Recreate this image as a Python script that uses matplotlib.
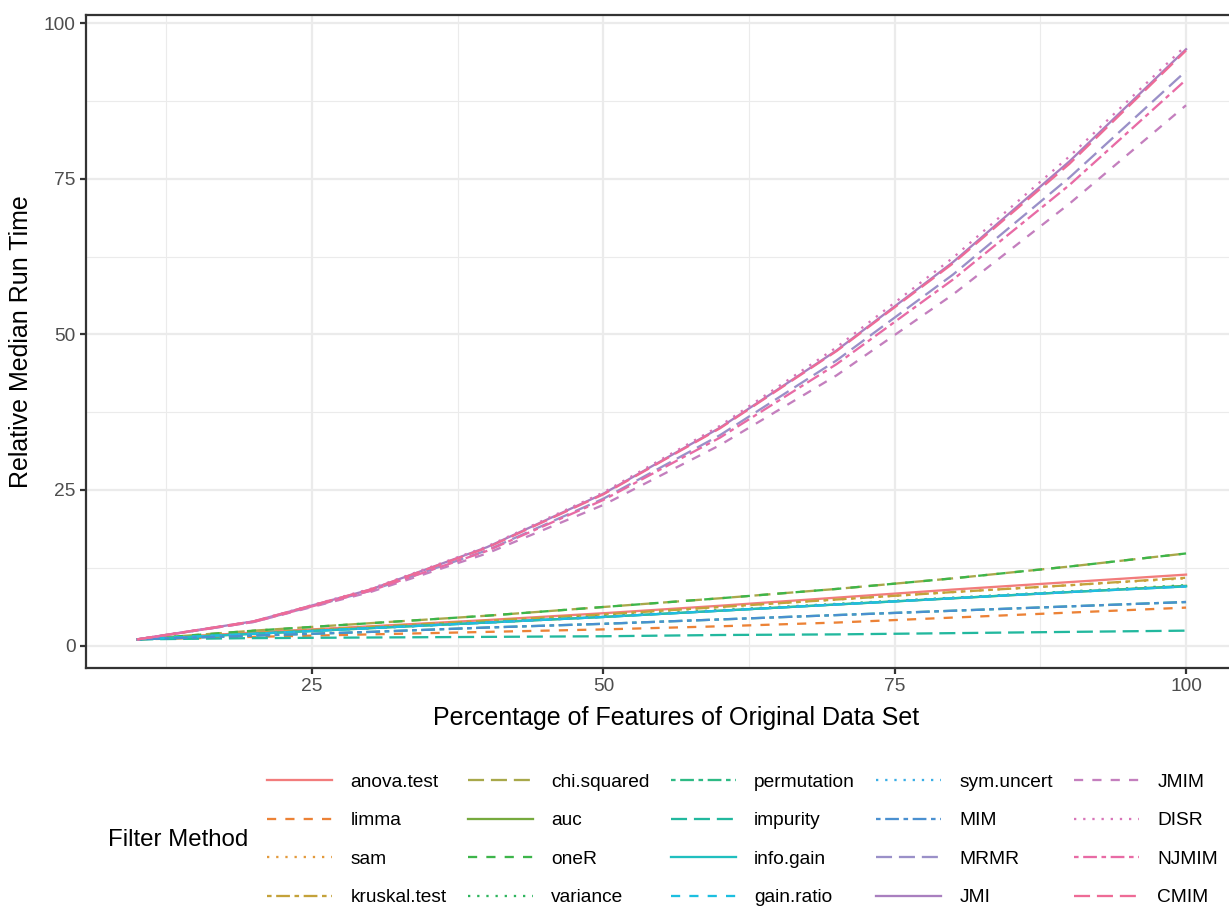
import matplotlib
matplotlib.use("Agg")
import matplotlib.pyplot as plt
from matplotlib.lines import Line2D

plt.rcParams["font.family"] = ["Liberation Sans", "DejaVu Sans"]

pct = [10, 20, 30, 40, 50, 60, 70, 80, 90, 100]

methods = ["anova.test", "limma", "sam", "kruskal.test", "chi.squared",
           "auc", "oneR", "variance", "permutation", "impurity",
           "info.gain", "gain.ratio", "sym.uncert", "MIM", "MRMR",
           "JMI", "JMIM", "DISR", "NJMIM", "CMIM"]

anova_test = [1, 2.1, 3.1, 4.1, 5.2, 6.4, 7.7, 9.0, 10.2, 11.4]
limma = [1, 1.4, 1.8, 2.2, 2.6, 3.1, 3.7, 4.5, 5.3, 6.1]
sam = [1, 2.0, 3.0, 4.0, 5.0, 6.2, 7.4, 8.6, 9.7, 10.8]
kruskal_test = [1, 2.0, 3.0, 4.0, 5.0, 6.2, 7.4, 8.6, 9.7, 10.9]
chi_squared = [1, 2.4, 3.6, 4.8, 6.2, 7.6, 9.1, 10.8, 12.7, 14.8]
auc = [1, 1.9, 2.8, 3.7, 4.6, 5.6, 6.6, 7.6, 8.6, 9.6]
oneR = [1, 2.4, 3.6, 4.8, 6.2, 7.6, 9.1, 10.8, 12.7, 14.8]
variance = [1, 1.9, 2.8, 3.7, 4.7, 5.7, 6.7, 7.7, 8.7, 9.7]
permutation = [1, 1.6, 2.2, 2.9, 3.5, 4.2, 4.9, 5.6, 6.3, 7.0]
impurity = [1, 1.2, 1.3, 1.4, 1.5, 1.7, 1.8, 2.0, 2.2, 2.4]
info_gain = [1, 1.9, 2.8, 3.7, 4.6, 5.6, 6.6, 7.6, 8.6, 9.5]
gain_ratio = [1, 1.9, 2.8, 3.7, 4.6, 5.6, 6.6, 7.6, 8.6, 9.5]
sym_uncert = [1, 1.9, 2.8, 3.7, 4.6, 5.6, 6.6, 7.6, 8.6, 9.5]
MIM = [1, 1.6, 2.2, 2.9, 3.5, 4.2, 4.9, 5.6, 6.3, 7.0]
MRMR = [1, 3.8, 8.8, 15.3, 23.6, 33.8, 45.8, 59.6, 75.2, 92.3]
JMI = [1, 3.9, 9.0, 15.8, 24.4, 35.0, 47.4, 61.6, 77.8, 95.8]
JMIM = [1, 3.8, 8.6, 14.8, 22.6, 32.2, 43.4, 56.4, 71.0, 86.8]
DISR = [1, 3.9, 9.1, 15.9, 24.6, 35.3, 47.9, 62.3, 78.6, 96.4]
NJMIM = [1, 3.8, 8.8, 15.2, 23.4, 33.4, 45.2, 58.8, 74.0, 90.9]
CMIM = [1, 3.9, 9.0, 15.7, 24.3, 34.9, 47.3, 61.4, 77.4, 95.6]

values = [anova_test, limma, sam, kruskal_test, chi_squared, auc, oneR,
          variance, permutation, impurity, info_gain, gain_ratio,
          sym_uncert, MIM, MRMR, JMI, JMIM, DISR, NJMIM, CMIM]

colors = ["#F27C7C", "#EC8236", "#E39A3C", "#C4A23A", "#A8A84A",
          "#76AA3E", "#3DB54A", "#2DB55D", "#2EBA84", "#22B89E",
          "#20BFBF", "#1CBFE0", "#3AAEE6", "#4A90D0", "#9A90C8",
          "#A97FBF", "#C47FBE", "#D875B8", "#E86BA5", "#EE6B96"]

# ggplot style dash patterns (in line widths): solid, dashed, dotted, twodash, longdash
patterns = [None, (4, 4), (1, 3), (2, 2, 6, 2), (7, 3)]

lw = 1.1
fig = plt.figure(figsize=(1229 / 150, 906 / 150), dpi=150)
# the original panel runs past the right edge of the picture (cropped)
ax = fig.add_axes([86 / 1229, 1 - 668 / 906, 1180 / 1229, 653 / 906])

handles = []
for i, (name, vals) in enumerate(zip(methods, values)):
    pat = patterns[i % 5]
    line, = ax.plot(pct, vals, color=colors[i], lw=lw, label=name)
    if pat is not None:
        line.set_dashes(pat)
    h = Line2D([], [], color=colors[i], lw=lw)
    if pat is not None:
        h.set_dashes(pat)
    handles.append(h)

ax.set_xlim(5.6, 5.6 + 1180 / 11.653)
ax.set_ylim(-3.6, 101.3)
ax.set_xticks([25, 50, 75, 100])
ax.set_yticks([0, 25, 50, 75, 100])
ax.set_xticks([12.5, 37.5, 62.5, 87.5], minor=True)
ax.set_yticks([12.5, 37.5, 62.5, 87.5], minor=True)
ax.grid(which="major", color="#EBEBEB", lw=1.07)
ax.grid(which="minor", color="#EBEBEB", lw=0.53)
ax.set_axisbelow(True)
for s in ax.spines.values():
    s.set_color("#333333")
    s.set_linewidth(1.07)
ax.tick_params(which="major", length=2.75, width=1.07, color="#333333",
               labelsize=9.2, labelcolor="#4D4D4D", pad=2.2)
ax.tick_params(which="minor", length=0)
ax.set_xlabel("Percentage of Features of Original Data Set", fontsize=12, labelpad=3)
ax.xaxis.set_label_coords(0.5, -0.058)
ax.set_ylabel("Relative Median Run Time", fontsize=12, labelpad=5)

fig.text(108 / 1229, 1 - 840 / 906, "Filter Method", fontsize=11.5,
         ha="left", va="center")
fig.legend(handles, methods, ncol=5, fontsize=9.2, frameon=False,
           loc="center left", bbox_to_anchor=(250 / 1229, 1 - 840 / 906),
           handlelength=3.4, handletextpad=0.95, columnspacing=1.1,
           labelspacing=1.1)

fig.savefig("out.png", dpi=150)
